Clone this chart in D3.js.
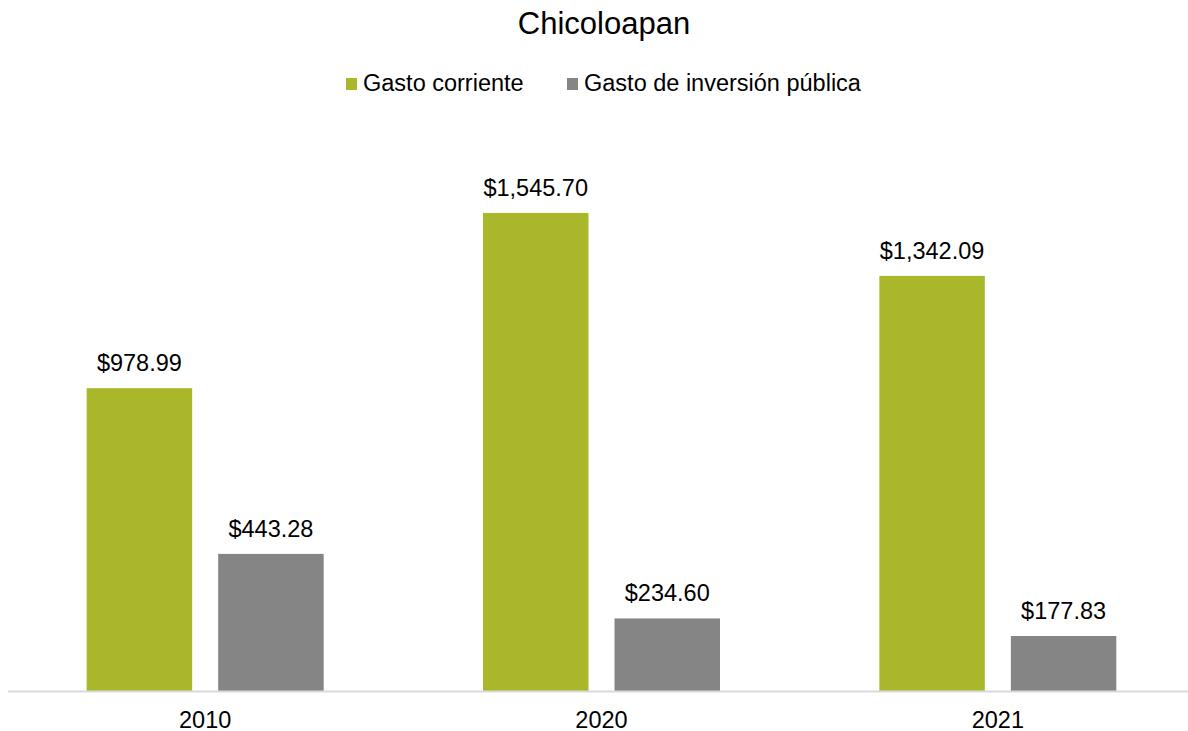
<!DOCTYPE html>
<html>
<head>
<meta charset="utf-8">
<script src="https://cdn.jsdelivr.net/npm/d3@7"></script>
<style>
  body { margin: 0; background: #fff; }
  svg { display: block; font-family: "Liberation Sans", Arial, sans-serif; }
</style>
</head>
<body>
<svg width="1188" height="731"></svg>
<script>
const years = ['2010', '2020', '2021'];
const series = ['Gasto corriente', 'Gasto de inversión pública'];
const gastoCorriente = [978.99, 1545.70, 1342.09];
const gastoInversion = [443.28, 234.60, 177.83];

const svg = d3.select('svg');
const width = 1188;

const color = d3.scaleOrdinal()
  .domain(series)
  .range(['#a8b82a', '#858585']);

const data = years.map((y, i) => ({
  year: y,
  values: [
    { key: series[0], value: gastoCorriente[i] },
    { key: series[1], value: gastoInversion[i] }
  ]
}));

const baseline = 691;

// title
svg.append('text')
  .attr('x', 604)
  .attr('y', 34)
  .attr('text-anchor', 'middle')
  .attr('font-size', '31px')
  .attr('fill', '#000')
  .text('Chicoloapan');

// legend
const legendX = [346, 567];
series.forEach((s, i) => {
  const lg = svg.append('g').attr('transform', `translate(${legendX[i]}, 0)`);
  lg.append('rect')
    .attr('x', 0).attr('y', 78)
    .attr('width', 11).attr('height', 12)
    .attr('fill', color(s));
  lg.append('text')
    .attr('x', 17).attr('y', 91)
    .attr('font-size', '23.5px')
    .attr('fill', '#000')
    .text(s);
});

// scales
const x0 = d3.scaleBand()
  .domain(years)
  .range([7, 1196])
  .paddingInner(0.402)
  .paddingOuter(0.201);

const x1 = d3.scaleBand()
  .domain(series)
  .range([0, x0.bandwidth()])
  .paddingInner(0.198);

const y = d3.scaleLinear()
  .domain([0, 1800])
  .range([baseline, baseline - 1800 * 0.3093]);

// bars
const groups = svg.selectAll('.grp').data(data)
  .enter().append('g')
  .attr('class', 'grp')
  .attr('transform', d => `translate(${x0(d.year)},0)`);

groups.selectAll('rect').data(d => d.values)
  .enter().append('rect')
  .attr('x', d => x1(d.key))
  .attr('y', d => y(d.value))
  .attr('width', x1.bandwidth())
  .attr('height', d => y(0) - y(d.value))
  .attr('fill', d => color(d.key));

groups.selectAll('.lbl').data(d => d.values)
  .enter().append('text')
  .attr('class', 'lbl')
  .attr('x', d => x1(d.key) + x1.bandwidth() / 2)
  .attr('y', d => y(d.value) - 17)
  .attr('text-anchor', 'middle')
  .attr('font-size', '23.5px')
  .attr('fill', '#000')
  .text(d => '$' + d3.format(',.2f')(d.value));

// x axis
const xAxisG = svg.append('g')
  .attr('transform', `translate(0,${baseline})`)
  .call(d3.axisBottom(x0).tickSize(0).tickPadding(0));
xAxisG.select('.domain').remove();
xAxisG.append('line')
  .attr('x1', 8).attr('x2', width)
  .attr('y1', 0.5).attr('y2', 0.5)
  .attr('stroke', '#d9d9d9')
  .attr('stroke-width', 2);
xAxisG.selectAll('.tick text')
  .attr('dy', null)
  .attr('y', 37)
  .attr('font-family', '"Liberation Sans", Arial, sans-serif')
  .attr('font-size', '23.5px')
  .attr('fill', '#000');
</script>
</body>
</html>
